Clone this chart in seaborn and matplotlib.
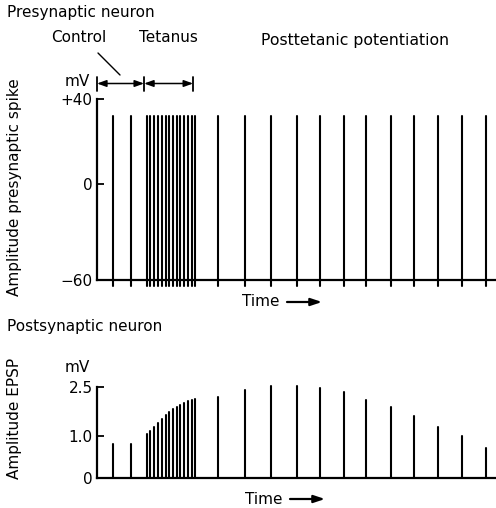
import numpy as np
import pandas as pd
import matplotlib
matplotlib.use("Agg")
import matplotlib.pyplot as plt
import seaborn as sns
from matplotlib.transforms import blended_transform_factory
from matplotlib.lines import Line2D

# ---------------- data ----------------
control_times = [4.0, 8.5]
tetanus_times = [12.5, 13.4, 14.4, 15.3, 16.2, 17.2, 18.1, 19.0, 20.0, 20.9, 21.8, 22.8, 23.7, 24.6]
post_times = [30.3, 37.1, 43.5, 50.0, 56.0, 61.8, 67.4, 73.8, 79.5, 85.5, 91.6, 97.6]

pre_rest_mv = -60
pre_peak_mv = 32
pre_foot_mv = -64

epsp_control = [0.81, 0.81]
epsp_tetanus = [1.06, 1.15, 1.28, 1.40, 1.52, 1.64, 1.73, 1.83, 1.89, 1.95, 2.01, 2.07, 2.10, 2.13]
epsp_post = [2.19, 2.41, 2.53, 2.53, 2.47, 2.35, 2.10, 1.89, 1.61, 1.28, 1.00, 0.71]

phase_labels = ["Control", "Tetanus", "Posttetanic potentiation"]
phase_bounds = [0, 11.8, 24.1]

pre_ticks = [-60, 0, 40]
pre_ticklabels = ["\u221260", "0", "+40"]
post_ticks = [0, 1.0, 2.5]
post_ticklabels = ["0", "1.0", "2.5"]

# ---------------- tables ----------------
times = control_times + tetanus_times + post_times
epsp = epsp_control + epsp_tetanus + epsp_post

pre_rows, post_rows = [], []
for i, t in enumerate(times):
    pre_rows += [(i, t, pre_foot_mv), (i, t, pre_peak_mv)]
    post_rows += [(i, t, 0.0), (i, t, epsp[i])]
pre_df = pd.DataFrame(pre_rows, columns=["spike", "time", "mv"])
post_df = pd.DataFrame(post_rows, columns=["spike", "time", "mv"])

# ---------------- style ----------------
sns.set_theme(style="white")
plt.rcParams["font.family"] = ["DejaVu Sans"]
plt.rcParams["font.size"] = 11
plt.rcParams["text.color"] = "black"
plt.rcParams["axes.labelcolor"] = "black"
plt.rcParams["xtick.color"] = "black"
plt.rcParams["ytick.color"] = "black"

W, H = 496, 508
fig = plt.figure(figsize=(W / 100, H / 100), dpi=100)

def fx(px):
    return px / W

def fy(py):
    return 1 - py / H

# schematic (hand drawn) axes -> piecewise linear scales
pre_xp, pre_fp = [-200, -60, 0, 40, 200], [-224, 0, 96, 181, 521]
post_xp, post_fp = [-5, 0, 1.0, 2.5, 10], [-210, 0, 42, 91, 336.25]

def pre_fwd(y):
    return np.interp(y, pre_xp, pre_fp)

def pre_inv(y):
    return np.interp(y, pre_fp, pre_xp)

def post_fwd(y):
    return np.interp(y, post_xp, post_fp)

def post_inv(y):
    return np.interp(y, post_fp, post_xp)

ax1 = fig.add_axes([fx(97), fy(289.6), 399 / W, 190.6 / H])
ax2 = fig.add_axes([fx(97), fy(478), 399 / W, 94.3 / H])

sns.lineplot(data=pre_df, x="time", y="mv", units="spike", estimator=None,
             sort=False, color="black", lw=1.5, ax=ax1, legend=False)
sns.lineplot(data=post_df, x="time", y="mv", units="spike", estimator=None,
             sort=False, color="black", lw=1.5, ax=ax2, legend=False)

ax1.set_yscale("function", functions=(pre_fwd, pre_inv))
ax2.set_yscale("function", functions=(post_fwd, post_inv))
ax1.set_ylim(-66, 40)
ax2.set_ylim(0, 2.6)

for ax, ticks, labels, lo, hi in [(ax1, pre_ticks, pre_ticklabels, -60, 40),
                                   (ax2, post_ticks, post_ticklabels, 0, 2.5)]:
    ax.set_xlim(0, 100)
    ax.set_xticks([])
    ax.set_xlabel("")
    ax.set_yticks(ticks)
    ax.set_yticklabels(labels)
    ax.yaxis.set_minor_locator(matplotlib.ticker.NullLocator())
    ax.tick_params(axis="y", direction="in", length=5, width=1.3, left=True,
                   labelsize=11, pad=3, colors="black")
    for s in ["top", "right"]:
        ax.spines[s].set_visible(False)
    for s in ["left", "bottom"]:
        ax.spines[s].set_color("black")
        ax.spines[s].set_linewidth(1.6)
    ax.spines["left"].set_bounds(lo, hi)
    ax.patch.set_alpha(0)

ax1.spines["bottom"].set_position(("data", pre_rest_mv))

ax1.set_ylabel("Amplitude presynaptic spike", fontsize=11, color="black")
ax1.yaxis.set_label_coords(fx(22), fy(187), transform=fig.transFigure)
ax2.set_ylabel("Amplitude EPSP", fontsize=11, color="black")
ax2.yaxis.set_label_coords(fx(22), fy(418), transform=fig.transFigure)

# ---------------- annotations ----------------
fig.text(fx(7), fy(12), "Presynaptic neuron", ha="left", va="center", color="black")
fig.text(fx(7), fy(327), "Postsynaptic neuron", ha="left", va="center", color="black")

fig.text(fx(79), fy(38), phase_labels[0], ha="center", va="center", color="black")
fig.text(fx(168), fy(38), phase_labels[1], ha="center", va="center", color="black")
fig.text(fx(355), fy(40), phase_labels[2], ha="center", va="center", color="black",
         fontsize=11.3)

fig.add_artist(Line2D([fx(98), fx(120)], [fy(53), fy(75)],
                      transform=fig.transFigure, color="black", lw=1))

fig.text(fx(90), fy(82), "mV", ha="right", va="center", color="black")
fig.text(fx(90), fy(368), "mV", ha="right", va="center", color="black")

bt = blended_transform_factory(ax1.transData, fig.transFigure)
for b in phase_bounds:
    ax1.add_line(Line2D([b, b], [fy(77), fy(91)], transform=bt, color="black",
                        lw=1.3, clip_on=False))
for a, b in [(phase_bounds[0], phase_bounds[1]), (phase_bounds[1], phase_bounds[2])]:
    ax1.annotate("", xy=(b, fy(83.5)), xytext=(a, fy(83.5)),
                 xycoords=bt, textcoords=bt, annotation_clip=False,
                 arrowprops=dict(arrowstyle="<|-|>,head_length=0.5,head_width=0.18",
                                 lw=1.1, color="black", shrinkA=0, shrinkB=0))

for ty, x0 in [(302, 242), (499, 245)]:
    fig.text(fx(x0), fy(ty), "Time", ha="left", va="center", color="black")
    ax1.annotate("", xy=(fx(x0 + 80), fy(ty)), xytext=(fx(x0 + 45), fy(ty)),
                 xycoords="figure fraction", textcoords="figure fraction",
                 annotation_clip=False,
                 arrowprops=dict(arrowstyle="-|>,head_length=0.6,head_width=0.2",
                                 lw=1.6, color="black", shrinkA=0, shrinkB=0))

fig.savefig("out.png", dpi=100)
